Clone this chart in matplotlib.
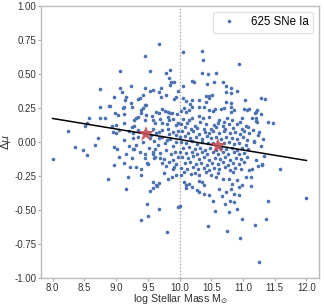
import numpy as np
import matplotlib
matplotlib.use('Agg')
import matplotlib.pyplot as plt

plt.rcParams['font.family'] = ['Liberation Sans', 'DejaVu Sans']

# values (log stellar mass, Hubble residual)
mass_a = [8.01, 8.36, 8.48, 8.55, 8.67, 8.87, 8.96, 9.12, 9.22, 9.19,
          9.16, 9.32, 9.39, 9.40, 9.40, 9.51, 9.49, 9.53, 9.59, 9.59,
          9.63, 9.67, 9.67, 9.49, 9.45, 9.46, 9.60, 9.58, 9.61, 9.80,
          8.25, 8.75, 8.74, 8.89, 8.57, 8.74, 8.82, 8.54, 8.51, 8.72,
          8.96, 9.01, 9.20, 9.26, 9.29, 9.58, 9.76, 9.82, 9.88, 9.94,
          9.75, 9.73, 9.79, 9.83, 9.89, 9.92, 9.94, 9.98, 9.50, 9.64]
dmu_a = [-0.127, -0.039, -0.057, -0.093, -0.022, -0.274, -0.17, -0.157, -0.18, -0.26,
         -0.346, -0.18, -0.2, -0.238, -0.576, -0.544, -0.456, -0.358, -0.294, -0.336,
         -0.318, -0.301, -0.491, -0.157, -0.118, -0.086, -0.118, -0.086, -0.11, -0.657,
         0.081, 0.39, 0.257, 0.265, 0.174, 0.179, 0.174, 0.137, 0.12, 0.027,
         -0.037, -0.049, -0.029, -0.054, -0.049, -0.074, -0.226, -0.274, -0.257, -0.245,
         -0.123, -0.154, -0.176, -0.147, -0.135, -0.184, -0.16, -0.476, -0.162, -0.32]

mass_b = [9.67, 9.46, 9.54, 9.06, 9.85, 9.79, 9.83, 9.87, 9.92, 9.24,
          9.06, 9.46, 9.53, 9.58, 9.09, 9.67, 9.71, 9.97, 9.85, 8.97,
          9.15, 9.14, 9.37, 9.34, 9.42, 9.78, 9.71, 9.92, 9.94, 9.24,
          9.25, 9.13, 9.11, 9.45, 9.47, 9.42, 9.40, 9.73, 9.77, 9.82,
          9.85, 9.88, 9.63, 9.67, 9.82, 9.84, 8.90, 8.98, 9.03, 9.13,
          9.39, 9.34, 9.31, 9.28, 9.47, 9.45, 9.59, 9.62, 9.13, 9.00,
          8.94, 9.25, 9.29, 9.73, 9.80, 9.94, 9.97, 9.89, 9.94, 9.84,
          9.73, 9.67, 9.58, 9.63, 9.34, 9.27, 9.21, 9.05, 9.00, 8.95,
          9.13, 9.26, 9.53, 9.68, 9.81]
dmu_b = [0.718, 0.632, 0.524, 0.52, 0.53, 0.51, 0.468, 0.44, 0.44, 0.41,
         0.40, 0.40, 0.375, 0.385, 0.365, 0.365, 0.40, 0.375, 0.42, 0.333,
         0.333, 0.31, 0.326, 0.316, 0.343, 0.35, 0.333, 0.314, 0.333, 0.289,
         0.26, 0.26, 0.25, 0.272, 0.272, 0.25, 0.235, 0.24, 0.228, 0.223,
         0.211, 0.215, 0.223, 0.211, 0.186, 0.162, 0.265, 0.211, 0.198, 0.206,
         0.211, 0.186, 0.174, 0.162, 0.198, 0.162, 0.162, 0.142, 0.137, 0.125,
         0.12, 0.113, 0.12, 0.137, 0.13, 0.125, 0.142, 0.076, 0.051, 0.059,
         0.088, 0.076, 0.093, 0.064, 0.088, 0.068, 0.081, 0.088, 0.064, 0.076,
         0.015, 0.027, 0.027, 0.027, 0.015]

mass_c = [10.05, 10.35, 10.37, 10.93, 10.35, 10.45, 10.57, 10.06, 10.19, 10.23,
          10.44, 10.55, 10.68, 10.73, 10.81, 10.74, 10.81, 10.90, 10.51, 10.47,
          10.41, 10.05, 10.10, 10.19, 10.16, 10.31, 10.41, 10.47, 10.73, 10.81,
          11.03, 10.07, 10.15, 10.20, 10.10, 10.02, 10.31, 10.39, 10.47, 10.52,
          10.56, 10.65, 10.70, 10.81, 10.81, 10.86, 11.02, 11.07, 10.20, 10.15,
          10.05, 10.31, 10.37, 10.47, 10.62, 10.70, 10.75, 10.83, 10.99, 11.29,
          11.35, 11.10, 11.20, 11.19, 11.22, 11.28, 11.15, 11.21, 11.22, 11.20,
          11.39, 11.47, 11.16, 11.25, 11.24, 11.31, 11.17]
dmu_c = [0.662, 0.671, 0.603, 0.571, 0.51, 0.498, 0.51, 0.412, 0.449, 0.443,
         0.43, 0.44, 0.44, 0.412, 0.40, 0.37, 0.362, 0.375, 0.35, 0.338,
         0.34, 0.326, 0.304, 0.309, 0.28, 0.309, 0.296, 0.321, 0.296, 0.284,
         0.309, 0.248, 0.235, 0.255, 0.223, 0.228, 0.26, 0.26, 0.235, 0.23,
         0.24, 0.24, 0.252, 0.26, 0.223, 0.235, 0.24, 0.235, 0.181, 0.162,
         0.167, 0.191, 0.174, 0.186, 0.162, 0.149, 0.174, 0.162, 0.174, 0.321,
         0.314, 0.24, 0.223, 0.211, 0.235, 0.204, 0.181, 0.174, 0.149, 0.157,
         0.147, 0.137, 0.088, 0.076, 0.051, 0.024, 0.01]

mass_d = [10.45, 10.75, 10.96, 10.00, 10.56, 10.78, 10.91, 10.99, 10.53, 10.72,
          10.79, 10.86, 10.62, 10.67, 10.73, 10.81, 10.86, 10.93, 10.07, 10.11,
          10.15, 10.20, 10.28, 10.31, 10.39, 10.47, 10.10, 10.31, 10.36, 10.39,
          10.83, 10.91, 10.93, 10.99, 10.02, 10.18, 10.31, 10.49, 10.57, 10.68,
          10.78, 11.04, 12.00, 11.39, 11.37, 11.19, 11.25, 11.58, 11.12, 11.12,
          11.14, 11.09, 11.24, 11.30, 11.30, 11.21, 11.33, 11.29, 11.17]
dmu_d = [-0.618, -0.654, -0.704, -0.473, -0.507, -0.51, -0.49, -0.564, -0.436, -0.453,
         -0.436, -0.441, -0.343, -0.399, -0.368, -0.343, -0.38, -0.385, -0.294, -0.318,
         -0.307, -0.331, -0.351, -0.368, -0.38, -0.388, -0.338, -0.289, -0.294, -0.318,
         -0.307, -0.282, -0.331, -0.318, -0.245, -0.233, -0.245, -0.245, -0.257, -0.27,
         -0.274, -0.257, -0.414, -0.434, -0.566, -0.608, -0.88, -0.199, -0.257, -0.326,
         -0.196, -0.208, -0.176, -0.171, -0.16, -0.135, -0.103, -0.029, 0.0]

# dense core of the cloud
mass_e = [10.02, 10.12, 10.25, 10.33, 10.42, 10.55, 10.60, 10.68, 10.78, 10.90,
          10.95, 11.05, 10.08, 10.18, 10.28, 10.38, 10.50, 10.58, 10.72, 10.85,
          10.98, 11.08, 10.04, 10.14, 10.22, 10.30, 10.40, 10.46, 10.53, 10.63,
          10.70, 10.80, 10.88, 10.95, 11.02, 11.10, 10.00, 10.09, 10.17, 10.26,
          10.35, 10.43, 10.50, 10.57, 10.66, 10.74, 10.83, 10.91, 11.00, 11.06,
          10.03, 10.11, 10.20, 10.28, 10.36, 10.45, 10.53, 10.70, 10.78, 10.86,
          10.94, 11.04, 10.06, 10.15, 10.24, 10.32, 10.40, 10.48, 10.58, 10.65,
          10.73, 10.82, 10.90, 10.98, 11.08, 10.01, 10.10, 10.19, 10.27, 10.35,
          10.44, 10.52, 10.61, 10.69, 10.77, 10.86, 10.93, 11.01, 10.04, 10.13,
          10.22, 10.30, 10.39, 10.47, 10.56, 10.64, 10.72, 10.80, 10.89, 10.97,
          11.06, 10.08, 10.17, 10.26, 10.34, 10.43, 10.51, 10.60, 10.68, 10.76,
          10.85, 10.94, 11.02, 10.03, 10.12, 10.21, 10.29, 10.38, 10.46, 10.55,
          10.63, 10.71, 10.80, 10.88, 10.97, 10.07, 10.25, 10.42, 10.60, 10.84,
          9.35, 9.42, 9.55, 9.60, 9.66, 9.72, 9.77, 9.85, 9.90, 9.95,
          9.32, 9.38, 9.52, 9.62, 9.70, 9.78, 9.86, 9.93, 9.97, 9.69,
          9.15, 9.05, 9.25, 9.82, 9.90, 9.96, 9.56, 9.70, 9.90, 9.97]
dmu_e = [0.13, 0.14, 0.12, 0.145, 0.13, 0.125, 0.14, 0.12, 0.135, 0.13,
         0.145, 0.12, 0.11, 0.10, 0.105, 0.095, 0.10, 0.11, 0.10, 0.105,
         0.095, 0.11, 0.08, 0.07, 0.085, 0.06, 0.075, 0.065, 0.08, 0.07,
         0.085, 0.065, 0.075, 0.06, 0.08, 0.065, 0.04, 0.045, 0.03, 0.04,
         0.025, 0.045, 0.03, 0.04, 0.02, 0.04, 0.03, 0.02, 0.035, 0.015,
         0.0, -0.01, 0.005, -0.015, 0.0, -0.01, -0.005, -0.01, 0.0, -0.015,
         -0.005, -0.02, -0.04, -0.035, -0.05, -0.04, -0.055, -0.045, -0.06, -0.04,
         -0.05, -0.045, -0.06, -0.04, -0.05, -0.075, -0.08, -0.07, -0.09, -0.075,
         -0.085, -0.07, -0.09, -0.075, -0.085, -0.07, -0.09, -0.08, -0.11, -0.12,
         -0.105, -0.125, -0.11, -0.13, -0.115, -0.125, -0.11, -0.13, -0.115, -0.125,
         -0.11, -0.155, -0.145, -0.16, -0.15, -0.165, -0.15, -0.16, -0.145, -0.165,
         -0.15, -0.16, -0.145, -0.19, -0.2, -0.185, -0.2, -0.19, -0.205, -0.19,
         -0.2, -0.185, -0.205, -0.19, -0.2, -0.22, -0.225, -0.22, -0.225, -0.22,
         0.04, 0.0, 0.05, 0.01, -0.02, 0.04, -0.01, 0.02, -0.03, 0.0,
         -0.02, -0.07, -0.04, -0.05, -0.08, -0.06, -0.09, -0.07, -0.11, -0.12,
         -0.09, -0.11, -0.12, 0.10, 0.17, 0.21, 0.19, 0.17, -0.2, 0.08]

mass = mass_a + mass_b + mass_c + mass_d + mass_e
dmu = dmu_a + dmu_b + dmu_c + dmu_d + dmu_e

# fitted line end points and the two bin means
fit_x = [8.0, 12.0]
fit_y = [0.174, -0.135]
star_x = [9.47, 10.60]
star_y = [0.058, -0.025]
mass_split = 10.0

fig = plt.figure(figsize=(3.24, 3.05), dpi=100)
ax = fig.add_axes([0.127, 0.088, 0.858, 0.892])

ax.axvline(mass_split, color='#999999', linestyle=':', linewidth=0.9, zorder=1)
ax.plot(mass, dmu, 'o', color='#4c72b0', markersize=2.6, markeredgewidth=0,
        label='625 SNe Ia', zorder=2)
ax.plot(fit_x, fit_y, color='black', linewidth=1.1, zorder=3)
ax.plot(star_x, star_y, '*', color='#c44e52', markersize=12, markeredgewidth=0,
        alpha=0.9, zorder=4)

ax.set_xlim(7.82, 12.2)
ax.set_ylim(-1.0, 1.0)
ax.set_xticks(np.arange(8.0, 12.01, 0.5))
ax.set_yticks(np.arange(-1.0, 1.01, 0.25))
ax.xaxis.set_major_formatter(matplotlib.ticker.FormatStrFormatter('%.1f'))
ax.yaxis.set_major_formatter(matplotlib.ticker.FormatStrFormatter('%.2f'))

for s in ax.spines.values():
    s.set_color('#bbbbbb')
    s.set_linewidth(1.0)
ax.tick_params(colors='#aaaaaa', labelcolor='#333333', labelsize=7,
               length=2, width=0.8, pad=1.5)

ax.set_xlabel(r'log Stellar Mass M$_{\odot}$', fontsize=7.7, color='#333333')
ax.set_ylabel(r'$\Delta\mu$', fontsize=8, color='#333333')
ax.xaxis.set_label_coords(0.5, -0.052)
ax.yaxis.set_label_coords(-0.10, 0.5)

leg = ax.legend(loc='upper right', fontsize=8.3, handletextpad=0.9,
                borderpad=0.4, fancybox=True)
leg.get_frame().set_edgecolor('#dddddd')

fig.savefig('out.png', dpi=100)
